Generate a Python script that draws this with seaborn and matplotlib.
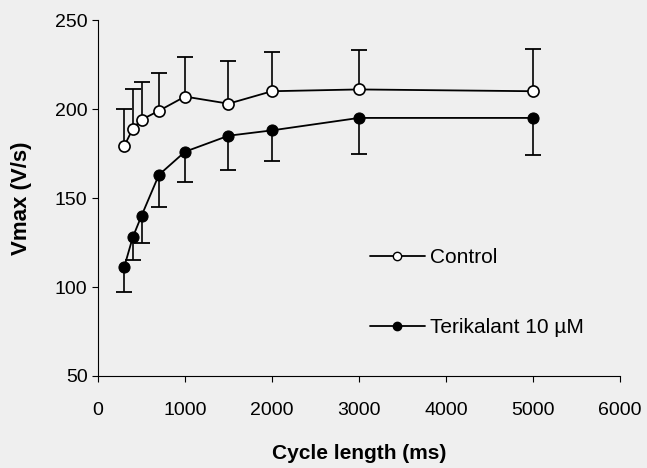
import matplotlib
matplotlib.use("Agg")
import matplotlib.pyplot as plt
import seaborn as sns
import pandas as pd
import numpy as np
from matplotlib.lines import Line2D

cycle_length = [300, 400, 500, 700, 1000, 1500, 2000, 3000, 5000]
control_vmax = [179, 189, 194, 199, 207, 203, 210, 211, 210]
control_se = [21, 22, 21, 21, 22, 24, 22, 22, 24]
terikalant_vmax = [111, 128, 140, 163, 176, 185, 188, 195, 195]
terikalant_se = [14, 13, 15, 18, 17, 19, 17, 20, 21]

bg = "#efefef"
sns.set_style("ticks")
plt.rcParams["font.family"] = ["Liberation Sans", "DejaVu Sans"]
plt.rcParams["text.color"] = "black"
plt.rcParams["axes.labelcolor"] = "black"

df = pd.DataFrame({
    "cycle": cycle_length * 2,
    "vmax": control_vmax + terikalant_vmax,
    "group": ["Control"] * len(cycle_length) + ["Terikalant 10 \u00b5M"] * len(cycle_length),
})

fig = plt.figure(figsize=(6.47, 4.68), dpi=100, facecolor=bg)
ax = fig.add_axes([0.1515, 0.1966, 0.8065, 0.7606], facecolor=bg)

# one-sided error bars: control upward, terikalant downward
ctrl_top = np.array(control_vmax) + np.array(control_se)
teri_bot = np.array(terikalant_vmax) - np.array(terikalant_se)
ax.vlines(cycle_length, control_vmax, ctrl_top, color="black", lw=1.2, zorder=2)
ax.vlines(cycle_length, teri_bot, terikalant_vmax, color="black", lw=1.2, zorder=2)
ax.plot(cycle_length, ctrl_top, ls="none", marker="_", markersize=12,
        markeredgewidth=1.3, color="black", zorder=2)
ax.plot(cycle_length, teri_bot, ls="none", marker="_", markersize=12,
        markeredgewidth=1.3, color="black", zorder=2)

sns.lineplot(data=df[df.group == "Control"], x="cycle", y="vmax", ax=ax, color="black",
             linewidth=1.3, marker="o", markersize=8, markerfacecolor="white",
             markeredgecolor="black", markeredgewidth=1.2, zorder=3)
sns.lineplot(data=df[df.group != "Control"], x="cycle", y="vmax", ax=ax, color="black",
             linewidth=1.3, marker="o", markersize=8, markerfacecolor="black",
             markeredgecolor="black", zorder=3)

ax.set_xlim(0, 6000)
ax.set_ylim(50, 250)
ax.set_xticks(range(0, 6001, 1000))
ax.set_yticks(range(50, 251, 50))
ax.tick_params(axis="both", labelsize=14, length=4, width=0.8, colors="black")
ax.tick_params(axis="x", pad=15)
for side in ["top", "right"]:
    ax.spines[side].set_visible(False)
for side in ["left", "bottom"]:
    ax.spines[side].set_linewidth(0.8)
    ax.spines[side].set_color("black")

ax.set_xlabel("Cycle length (ms)", fontsize=15, fontweight="bold")
ax.set_ylabel("Vmax (V/s)", fontsize=16, fontweight="bold")
ax.xaxis.set_label_coords(0.5, -0.19)
ax.yaxis.set_label_coords(-0.126, 0.5)

handles = [
    Line2D([], [], color="black", lw=1.3, marker="o", markersize=6,
           markerfacecolor="white", markeredgecolor="black"),
    Line2D([], [], color="black", lw=1.3, marker="o", markersize=6,
           markerfacecolor="black", markeredgecolor="black"),
]
ax.legend(handles, ["Control", "Terikalant 10 \u00b5M"], loc="upper left",
          bbox_to_anchor=(0.521, 0.36), frameon=False, fontsize=15,
          handlelength=2.65, handletextpad=0.25, labelspacing=2.45, borderpad=0,
          borderaxespad=0)

fig.savefig("out.png", dpi=100, facecolor=bg)
